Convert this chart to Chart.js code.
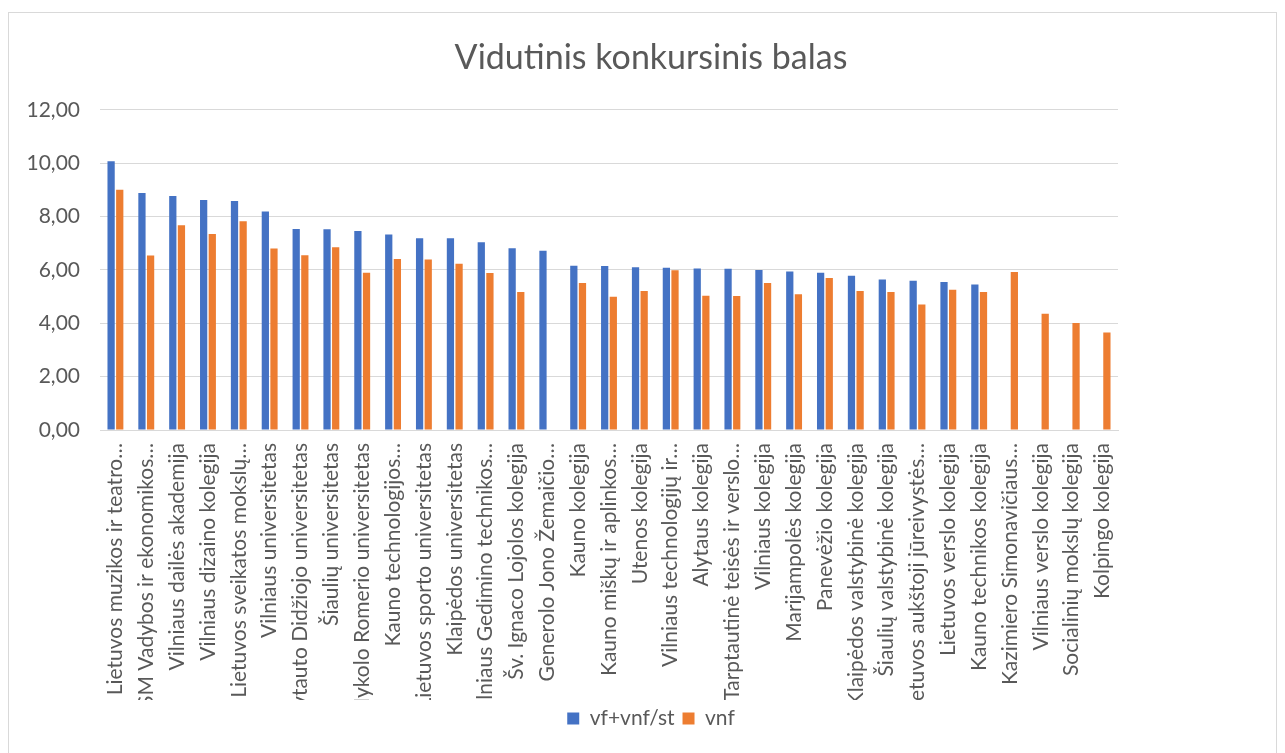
<!DOCTYPE html>
<html>
<head>
<meta charset="utf-8">
<script src="https://cdn.jsdelivr.net/npm/chart.js@4.4.1/dist/chart.umd.min.js"></script>
<style>
  body { margin: 0; background: #fff; }
  #frame { position: absolute; left: 8px; top: 12px; width: 1267px; height: 760px; border: 1px solid #d9d9d9; }
  #chart { position: absolute; left: 0; top: 0; }
</style>
</head>
<body>
<div id="frame"></div>
<canvas id="chart" width="1285" height="753"></canvas>
<script>
  var schools = [
    'Lietuvos muzikos ir teatro…',
    'ISM Vadybos ir ekonomikos…',
    'Vilniaus dailės akademija',
    'Vilniaus dizaino kolegija',
    'Lietuvos sveikatos mokslų…',
    'Vilniaus universitetas',
    'Vytauto Didžiojo universitetas',
    'Šiaulių universitetas',
    'Mykolo Romerio universitetas',
    'Kauno technologijos…',
    'Lietuvos sporto universitetas',
    'Klaipėdos universitetas',
    'Vilniaus Gedimino technikos…',
    'Šv. Ignaco Lojolos kolegija',
    'Generolo Jono Žemaičio…',
    'Kauno kolegija',
    'Kauno miškų ir aplinkos…',
    'Utenos kolegija',
    'Vilniaus technologijų ir…',
    'Alytaus kolegija',
    'Tarptautinė teisės ir verslo…',
    'Vilniaus kolegija',
    'Marijampolės kolegija',
    'Panevėžio kolegija',
    'Klaipėdos valstybinė kolegija',
    'Šiaulių valstybinė kolegija',
    'Lietuvos aukštoji jūreivystės…',
    'Lietuvos verslo kolegija',
    'Kauno technikos kolegija',
    'Kazimiero Simonavičiaus…',
    'Vilniaus verslo kolegija',
    'Socialinių mokslų kolegija',
    'Kolpingo kolegija'
  ];

  // vf+vnf/st
  var allStudents = [10.07, 8.88, 8.77, 8.62, 8.58, 8.19, 7.53, 7.52, 7.46, 7.33, 7.19,
    7.19, 7.04, 6.81, 6.72, 6.16, 6.15, 6.10, 6.08, 6.05, 6.04, 6.00,
    5.94, 5.89, 5.78, 5.64, 5.59, 5.55, 5.45, null, null, null, null];

  // vnf
  var paying = [9.00, 6.54, 7.67, 7.35, 7.82, 6.80, 6.55, 6.85, 5.89, 6.41, 6.39,
    6.23, 5.88, 5.17, null, 5.51, 4.99, 5.21, 5.99, 5.03, 5.02, 5.51,
    5.09, 5.70, 5.21, 5.17, 4.70, 5.26, 5.17, 5.92, 4.36, 4.01, 3.65];

  var yTicks = [0, 2, 4, 6, 8, 10, 12];

  var grey = '#595959';
  var gridGrey = '#d9d9d9';
  Chart.defaults.font.family = 'Lato, "Open Sans", sans-serif';
  Chart.defaults.color = grey;

  var ctx = document.getElementById('chart').getContext('2d');
  window.myBar = new Chart(ctx, {
    type: 'bar',
    data: {
      labels: schools,
      datasets: [
        {
          label: 'vf+vnf/st',
          data: allStudents,
          backgroundColor: '#4472C4',
          categoryPercentage: 0.56,
          barPercentage: 0.84
        },
        {
          label: 'vnf',
          data: paying,
          backgroundColor: '#ED7D31',
          categoryPercentage: 0.56,
          barPercentage: 0.84
        }
      ]
    },
    options: {
      responsive: false,
      animation: false,
      layout: {
        padding: { left: 17, right: 0, top: 0, bottom: 14 }
      },
      plugins: {
        title: {
          display: true,
          text: 'Vidutinis konkursinis balas',
          color: grey,
          font: { size: 34, weight: 'normal' },
          padding: { top: 38, bottom: 31 }
        },
        legend: {
          position: 'bottom',
          labels: {
            boxWidth: 12,
            boxHeight: 12,
            color: grey,
            font: { size: 21 },
            padding: 8
          }
        },
        tooltip: { enabled: false }
      },
      scales: {
        x: {
          grid: { display: false },
          border: { color: gridGrey, width: 1 },
          ticks: {
            autoSkip: false,
            minRotation: 90,
            maxRotation: 90,
            color: grey,
            font: { size: 21 },
            padding: 5
          },
          afterFit: function (scale) { scale.height = 270; }
        },
        y: {
          min: 0,
          max: 12,
          afterBuildTicks: function (scale) {
            scale.ticks = yTicks.map(function (v) { return { value: v }; });
          },
          grid: { color: gridGrey, lineWidth: 1, drawTicks: false },
          border: { display: false },
          ticks: {
            color: grey,
            font: { size: 21 },
            padding: 20,
            callback: function (v) { return v.toFixed(2).replace('.', ','); }
          },
          afterFit: function (scale) { scale.width = 83; }
        },
        // empty right-hand margin so the title and legend centre on the whole frame
        side: {
          position: 'right',
          grid: { display: false },
          border: { display: false },
          ticks: { display: false },
          afterFit: function (scale) { scale.width = 167; }
        }
      }
    }
  });
</script>
</body>
</html>
